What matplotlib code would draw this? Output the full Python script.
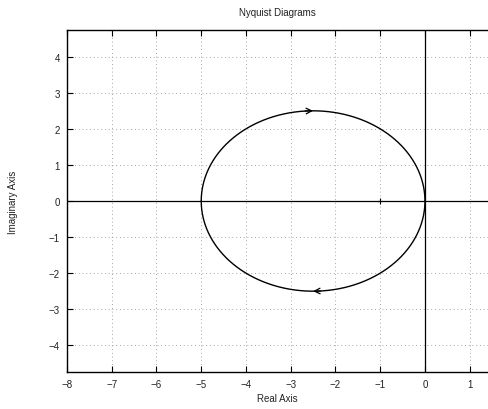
import numpy as np
import matplotlib
matplotlib.use("Agg")
import matplotlib.pyplot as plt

num = [-5.0]
den = [1.0, 1.0]
arrow_freq = 1.0          # rad/s, where the direction arrows sit
crit_point = (-1.0, 0.0)  # the "+" marker

x_ticks = [-8, -7, -6, -5, -4, -3, -2, -1, 0, 1]
y_ticks = [-4, -3, -2, -1, 0, 1, 2, 3, 4]

plt.rcParams["font.family"] = ["Liberation Sans", "DejaVu Sans"]


def freq_resp(w):
    s = 1j * np.asarray(w)
    return np.polyval(num, s) / np.polyval(den, s)


w = np.logspace(-3, 3, 3000)
g_pos = freq_resp(w)
g_neg = freq_resp(-w)

fig = plt.figure(figsize=(4.88, 4.10), dpi=100)
ax = fig.add_axes([67 / 488, 37 / 410, 1 - 67 / 488 + 0.001, 342 / 410])

ax.axhline(0, color="black", lw=0.9, zorder=2)
ax.axvline(0, color="black", lw=0.9, zorder=2)

ax.plot(g_pos.real, g_pos.imag, color="black", lw=1.0, zorder=3)
ax.plot(g_neg.real, g_neg.imag, color="black", lw=1.0, zorder=3)
ax.plot(*crit_point, marker="+", color="black", ms=4, mew=0.8, zorder=3)

# direction arrows
for sgn in (1, -1):
    p0 = freq_resp(sgn * arrow_freq * 0.93 if sgn > 0 else -arrow_freq * 1.07)
    p1 = freq_resp(sgn * arrow_freq)
    ax.annotate("", xy=(p1.real, p1.imag), xytext=(p0.real, p0.imag),
                arrowprops=dict(arrowstyle="->", color="black", lw=0.9,
                                mutation_scale=10, shrinkA=0, shrinkB=0),
                zorder=4)

ax.set_xlim(-8, 1.42)
ax.set_ylim(-4.74, 4.74)
ax.set_xticks(x_ticks)
ax.set_yticks(y_ticks)
ax.set_xticklabels([str(t).replace("-", "\u2212") for t in x_ticks])
ax.set_yticklabels([str(t).replace("-", "\u2212") for t in y_ticks])
ax.tick_params(direction="in", length=4, width=0.8, labelsize=7, top=True,
               right=False, pad=5, labelcolor="#222222")
ax.grid(True, linestyle=(0, (1, 3.5)), color="#888888", lw=0.6, zorder=1)
for side in ("left", "bottom", "top"):
    ax.spines[side].set_linewidth(1.0)
ax.spines["right"].set_visible(False)

ax.set_title("Nyquist Diagrams", fontsize=7, pad=11, color="#222222")
ax.set_xlabel("Real Axis", fontsize=7, labelpad=3, color="#222222")
ax.set_ylabel("Imaginary Axis", fontsize=7, labelpad=22, color="#222222")

fig.savefig("out.png", dpi=100)
